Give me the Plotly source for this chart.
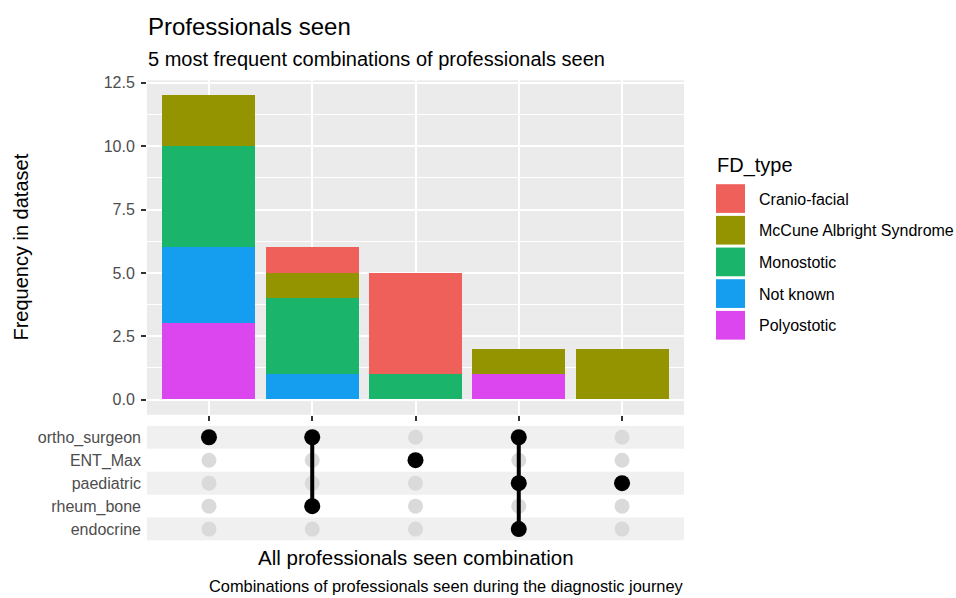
import plotly.graph_objects as go

# ---- data ---------------------------------------------------------------
professionals = ["ortho_surgeon", "ENT_Max", "paediatric", "rheum_bone", "endocrine"]
combinations = [
    ["ortho_surgeon"],
    ["ortho_surgeon", "rheum_bone"],
    ["ENT_Max"],
    ["ortho_surgeon", "paediatric", "endocrine"],
    ["paediatric"],
]
fd_types = ["Cranio-facial", "McCune Albright Syndrome", "Monostotic", "Not known", "Polyostotic"]
cranio_facial = [0, 1, 4, 0, 0]
mccune_albright = [2, 1, 0, 1, 2]
monostotic = [4, 3, 1, 0, 0]
not_known = [3, 1, 0, 0, 0]
polyostotic = [3, 0, 0, 1, 0]
y_ticks = [0, 2.5, 5, 7.5, 10, 12.5]

series = dict(zip(fd_types, [cranio_facial, mccune_albright, monostotic, not_known, polyostotic]))
colors = {
    "Cranio-facial": "#F0605A",
    "McCune Albright Syndrome": "#949400",
    "Monostotic": "#1BB46B",
    "Not known": "#159DF0",
    "Polyostotic": "#DC46EE",
}

W, H = 956, 598
FONT = "Liberation Sans, Arial, Helvetica, sans-serif"
TXT = "#4D4D4D"


def px_x(p):
    return p / W


def px_y(p):
    return 1 - p / H


x_pos = list(range(1, len(combinations) + 1))

fig = go.Figure()

# stacked bars: last level at the bottom, first level on top
for name in reversed(fd_types):
    fig.add_trace(go.Bar(
        x=x_pos, y=series[name], name=name, width=0.9,
        marker=dict(color=colors[name], line=dict(width=0)),
        xaxis="x", yaxis="y", showlegend=False,
    ))

# combination matrix: grey background dots
row_of = {p: i + 1 for i, p in enumerate(professionals)}
bg_x, bg_y = [], []
for xi in x_pos:
    for p in professionals:
        bg_x.append(xi)
        bg_y.append(row_of[p])
fig.add_trace(go.Scatter(
    x=bg_x, y=bg_y, mode="markers", xaxis="x2", yaxis="y2",
    marker=dict(size=15, color="#DADADA"), showlegend=False, hoverinfo="skip",
))

# connecting lines for multi-member combinations
for xi, combo in zip(x_pos, combinations):
    rows = sorted(row_of[p] for p in combo)
    if len(rows) > 1:
        fig.add_trace(go.Scatter(
            x=[xi, xi], y=[rows[0], rows[-1]], mode="lines", xaxis="x2", yaxis="y2",
            line=dict(color="black", width=4), showlegend=False, hoverinfo="skip",
        ))

# member dots
m_x, m_y = [], []
for xi, combo in zip(x_pos, combinations):
    for p in combo:
        m_x.append(xi)
        m_y.append(row_of[p])
fig.add_trace(go.Scatter(
    x=m_x, y=m_y, mode="markers", xaxis="x2", yaxis="y2",
    marker=dict(size=16, color="black"), showlegend=False,
))

# panels
top_dom = [px_y(413), px_y(75)]
mat_dom = [px_y(540), px_y(424)]
x_dom = [px_x(147), px_x(684)]
x_range = [0.4, len(combinations) + 0.6]

shapes = [
    dict(type="rect", xref="paper", yref="paper", x0=x_dom[0], x1=x_dom[1],
         y0=top_dom[0], y1=top_dom[1], fillcolor="#EBEBEB", line=dict(width=0), layer="below"),
]
for p in professionals:
    r = row_of[p]
    if r % 2 == 1:
        shapes.append(dict(type="rect", xref="x2 domain", yref="y2", x0=0, x1=1,
                           y0=r - 0.5, y1=r + 0.5, fillcolor="#F0F0F0",
                           line=dict(width=0), layer="below"))

# legend drawn as keys + labels
annotations = []
for k, name in enumerate(fd_types):
    top = 180 + 32 * k
    shapes.append(dict(type="rect", xref="paper", yref="paper",
                       x0=px_x(716), x1=px_x(745), y0=px_y(top + 29), y1=px_y(top),
                       fillcolor=colors[name], line=dict(width=0)))
    annotations.append(dict(text=name, xref="paper", yref="paper", x=px_x(757), y=px_y(top + 15),
                            xanchor="left", yanchor="middle", showarrow=False,
                            font=dict(size=16, color="black", family=FONT)))

annotations += [
    dict(text="FD_type", xref="paper", yref="paper", x=px_x(715), y=px_y(161),
         xanchor="left", yanchor="middle", showarrow=False,
         font=dict(size=20, color="black", family=FONT)),
    dict(text="Professionals seen", xref="paper", yref="paper", x=px_x(146), y=px_y(21),
         xanchor="left", yanchor="middle", showarrow=False,
         font=dict(size=24, color="black", family=FONT)),
    dict(text="5 most frequent combinations of professionals seen", xref="paper", yref="paper",
         x=px_x(146), y=px_y(54), xanchor="left", yanchor="middle", showarrow=False,
         font=dict(size=20, color="black", family=FONT)),
    dict(text="Frequency in dataset", xref="paper", yref="paper", x=px_x(21), y=px_y(244),
         xanchor="center", yanchor="middle", textangle=-90, showarrow=False,
         font=dict(size=20, color="black", family=FONT)),
    dict(text="All professionals seen combination", xref="paper", yref="paper",
         x=px_x(416), y=px_y(557), xanchor="center", yanchor="middle", showarrow=False,
         font=dict(size=20.5, color="black", family=FONT)),
    dict(text="Combinations of professionals seen during the diagnostic journey",
         xref="paper", yref="paper", x=px_x(686), y=px_y(586), xanchor="right", yanchor="middle",
         showarrow=False, font=dict(size=16.4, color="black", family=FONT)),
]

fig.update_layout(
    width=W, height=H,
    margin=dict(l=0, r=0, t=0, b=0),
    paper_bgcolor="white", plot_bgcolor="rgba(0,0,0,0)",
    barmode="stack", bargap=0,
    font=dict(family=FONT, color=TXT, size=16),
    showlegend=False,
    shapes=shapes, annotations=annotations,
    xaxis=dict(domain=x_dom, anchor="y", range=x_range, tickvals=x_pos,
               ticktext=[""] * len(x_pos), ticks="outside", ticklen=5, tickwidth=1.5,
               tickcolor="#333333", showgrid=True, gridcolor="white", gridwidth=2,
               zeroline=False, showline=False, fixedrange=True),
    yaxis=dict(domain=top_dom, anchor="x", range=[-0.6, 12.6], tickvals=y_ticks,
               ticktext=[f"{v:.1f}" for v in y_ticks], ticks="outside", ticklen=5,
               tickwidth=1.5, tickcolor="#333333", ticklabelstandoff=3,
               showgrid=True, gridcolor="white", gridwidth=2, zeroline=False,
               minor=dict(dtick=1.25, tick0=0, showgrid=True, gridcolor="white",
                          gridwidth=1, ticks=""),
               tickfont=dict(size=16, color=TXT), fixedrange=True),
    xaxis2=dict(domain=x_dom, anchor="y2", range=x_range, showticklabels=False,
                ticks="", showgrid=False, zeroline=False, showline=False, fixedrange=True),
    yaxis2=dict(domain=mat_dom, anchor="x2", range=[len(professionals) + 0.5, 0.5],
                tickvals=[row_of[p] for p in professionals], ticktext=professionals,
                ticks="", showgrid=False, zeroline=False, ticklabelstandoff=5,
                tickfont=dict(size=16, color=TXT), fixedrange=True),
)

fig.write_html("out.html")
